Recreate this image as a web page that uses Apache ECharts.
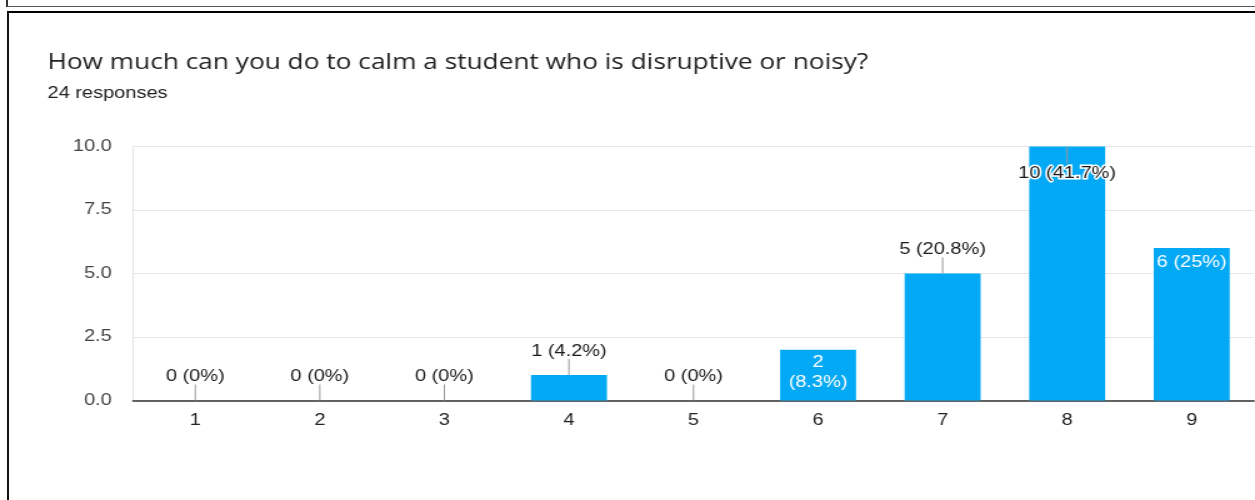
<!DOCTYPE html>
<html>
<head>
<meta charset="utf-8">
<script src="https://cdn.jsdelivr.net/npm/echarts@6/dist/echarts.min.js"></script>
<style>
  html, body { margin: 0; padding: 0; background: #fff; overflow: hidden; width: 1255px; height: 500px; }
  /* the chart is laid out at 1004px and stretched to the full 1255px width */
  #chart { position: absolute; left: 0; top: 0; width: 1004px; height: 500px; transform: scaleX(1.25); transform-origin: 0 0; }
  .frame-prev { position: absolute; left: 6px; top: -20px; width: 1300px; height: 26px; border-left: 2px solid #333; border-bottom: 1px solid #555; pointer-events: none; }
  .frame { position: absolute; left: 7px; top: 11px; width: 1300px; height: 600px; border-top: 2px solid #000; border-left: 2px solid #111; pointer-events: none; }
</style>
</head>
<body>
<div id="chart"></div>
<div class="frame-prev"></div>
<div class="frame"></div>
<script>
// Answers on the 1–9 scale and how many people picked each
const categories = ['1', '2', '3', '4', '5', '6', '7', '8', '9'];
const counts = [0, 0, 0, 1, 0, 2, 5, 10, 6];
const yTickLabels = ['0.0', '2.5', '5.0', '7.5', '10.0'];

const questionTitle = 'How much can you do to calm a student who is disruptive or noisy?';
const total = counts.reduce((a, b) => a + b, 0);

// where each bar's value label sits
const labelPlacement = ['above', 'above', 'above', 'above', 'above', 'insideWrap', 'above', 'overlapTop', 'insideTop'];

function pctText(v) {
  const p = Math.round(v / total * 1000) / 10;
  return (Number.isInteger(p) ? String(p) : p.toFixed(1)) + '%';
}

const BAR_BLUE = '#03a9f4';
const LABEL_FONT = 'Liberation Sans, Arial, sans-serif';

function renderLabel(params, api) {
  const idx = api.value(0);
  const v = api.value(1);
  const pt = api.coord([idx, v]);
  const x = pt[0], y = pt[1];
  const mode = labelPlacement[params.dataIndex];
  const full = v + ' (' + pctText(v) + ')';
  const children = [];
  const leader = (y1, y2) => ({
    type: 'line',
    shape: { x1: x, y1: y1, x2: x, y2: y2 },
    style: { stroke: '#999', lineWidth: 1 }
  });
  const text = (t, ty, fill, extra) => ({
    type: 'text',
    x: x, y: ty,
    style: Object.assign({
      text: t, fill: fill, fontSize: 16, fontFamily: LABEL_FONT,
      align: 'center', verticalAlign: 'middle'
    }, extra || {})
  });
  if (mode === 'above') {
    children.push(leader(y - 16, y));
    children.push(text(full, y - 24, '#1a1a1a'));
  } else if (mode === 'insideWrap') {
    children.push(text(String(v), y + 13, '#fff'));
    children.push(text('(' + pctText(v) + ')', y + 33, '#fff'));
  } else if (mode === 'overlapTop') {
    children.push(leader(y, y + 17));
    children.push(text(full, y + 27, '#1a1a1a', { stroke: '#fff', lineWidth: 3 }));
  } else {
    children.push(text(full, y + 14, '#fff'));
  }
  return { type: 'group', children: children };
}

const chart = echarts.init(document.getElementById('chart'), null, { renderer: 'canvas' });

chart.setOption({
  animation: false,
  backgroundColor: 'transparent',
  title: {
    text: questionTitle,
    subtext: total + ' responses',
    left: 38,
    top: 53,
    itemGap: 12,
    padding: 0,
    textStyle: { fontSize: 21, fontWeight: 400, color: '#202124', fontFamily: 'Open Sans, sans-serif' },
    subtextStyle: { fontSize: 16, color: '#202124', fontFamily: LABEL_FONT }
  },
  grid: { left: 106.4, right: 0.8, top: 146.5, bottom: 99.5, containLabel: false },
  xAxis: {
    type: 'category',
    data: categories,
    axisLine: { show: true, lineStyle: { color: '#333', width: 1.5 } },
    axisTick: { show: false },
    axisLabel: { color: '#222', fontSize: 16, fontFamily: LABEL_FONT, margin: 12 },
    splitLine: { show: false }
  },
  yAxis: {
    type: 'value',
    min: 0,
    max: 10,
    interval: 2.5,
    axisLine: { show: true, lineStyle: { color: '#e4e4e4', width: 1 } },
    axisTick: { show: false },
    axisLabel: {
      color: '#444', fontSize: 16, fontFamily: LABEL_FONT, margin: 17,
      formatter: (val) => yTickLabels[Math.round(val / 2.5)]
    },
    splitLine: { show: true, lineStyle: { color: '#e6e6e6', width: 1 } }
  },
  series: [
    {
      type: 'bar',
      data: counts,
      barCategoryGap: '39%',
      itemStyle: { color: BAR_BLUE },
      z: 2
    },
    {
      type: 'custom',
      data: counts.map((v, i) => [i, v]),
      renderItem: renderLabel,
      z: 5,
      silent: true
    }
  ]
});
</script>
</body>
</html>
